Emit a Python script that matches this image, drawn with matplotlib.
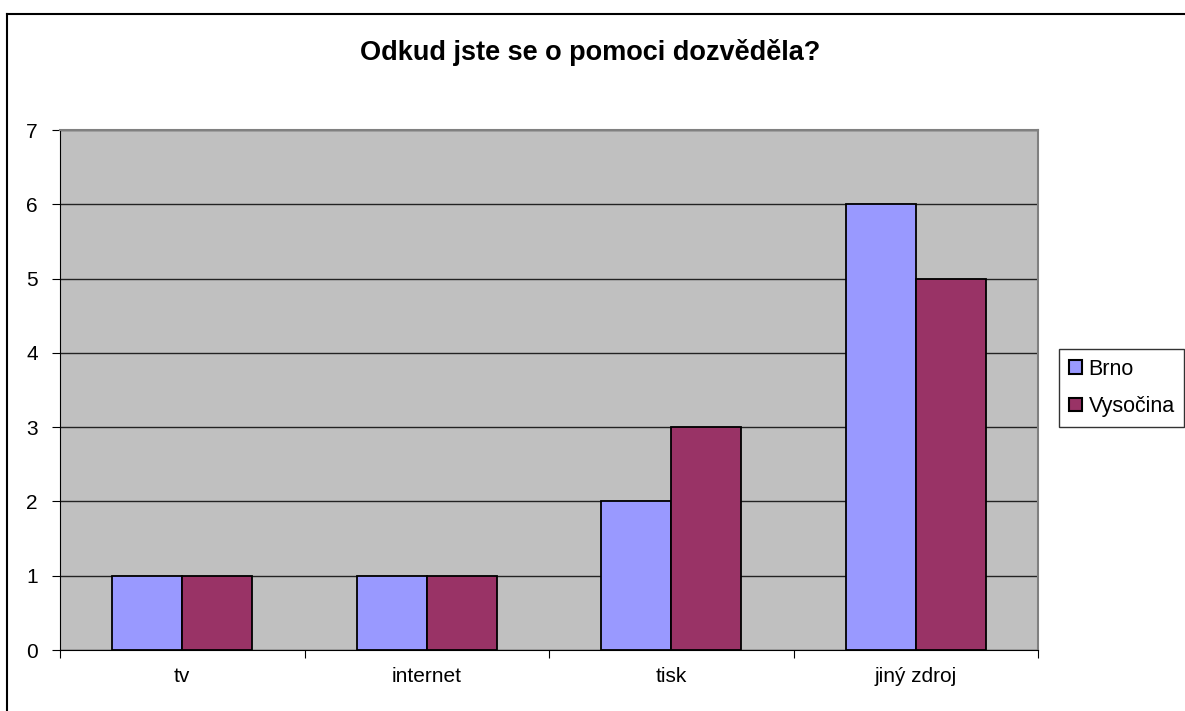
import numpy as np
import matplotlib.pyplot as plt
from matplotlib.patches import Rectangle
from matplotlib.lines import Line2D

plt.rcParams['font.family'] = ['Liberation Sans', 'DejaVu Sans']

categories = ['tv', 'internet', 'tisk', 'jiný zdroj']
brno = [1, 1, 2, 6]
vysocina = [1, 1, 3, 5]
series_names = ['Brno', 'Vysočina']
title = 'Odkud jste se o pomoci dozvěděla?'

fig = plt.figure(figsize=(11.85, 7.11), dpi=100)
ax = fig.add_axes([60 / 1185, 61 / 711, 978 / 1185, 520 / 711])
ax.set_facecolor('#C0C0C0')

x = np.arange(len(categories))
w = 1 / 3.5
ax.bar(x - w / 2, brno, w, color='#9999FF', edgecolor='black', linewidth=1.3, zorder=3)
ax.bar(x + w / 2, vysocina, w, color='#993366', edgecolor='black', linewidth=1.3, zorder=3)

ax.set_xlim(-0.5, len(categories) - 0.5)
ax.set_ylim(0, 7)
ax.set_yticks(range(8))
ax.yaxis.grid(True, color='#222222', linewidth=1)
ax.set_axisbelow(True)

# category ticks sit on the boundaries, labels in the middle
ax.set_xticks(np.arange(len(categories) + 1) - 0.5)
ax.set_xticklabels([])
ax.set_xticks(x, minor=True)
ax.set_xticklabels(categories, minor=True)
ax.tick_params(axis='x', which='major', length=6, direction='out', color='black')
ax.tick_params(axis='x', which='minor', length=0, pad=12, labelsize=15)
ax.tick_params(axis='y', length=6, direction='out', pad=10, labelsize=15)

for s in ['top', 'right']:
    ax.spines[s].set_color('#808080')
    ax.spines[s].set_linewidth(1.5)
for s in ['left', 'bottom']:
    ax.spines[s].set_color('black')

fig.text(590 / 1185, 1 - 53 / 711, title, ha='center', va='center',
         fontsize=19.5, fontweight='bold')

handles = [Rectangle((0, 0), 1, 1, facecolor='#9999FF', edgecolor='black', linewidth=1.5),
           Rectangle((0, 0), 1, 1, facecolor='#993366', edgecolor='black', linewidth=1.5)]
leg = fig.legend(handles, series_names, loc='center left',
                 bbox_to_anchor=(1059 / 1185, 1 - 388 / 711), fontsize=15.5,
                 frameon=True, fancybox=False, edgecolor='black',
                 handlelength=0.62, handleheight=0.62, handletextpad=0.3,
                 labelspacing=0.75, borderpad=0.45, borderaxespad=0)
leg.get_frame().set_linewidth(1)

# outer chart frame
fig.add_artist(Line2D([7 / 1185, 7 / 1185], [0, 1 - 14 / 711], color='black', linewidth=1.5))
fig.add_artist(Line2D([7 / 1185, 1184 / 1185], [1 - 14 / 711, 1 - 14 / 711], color='black', linewidth=1.5))

fig.savefig('out.png', dpi=100)
